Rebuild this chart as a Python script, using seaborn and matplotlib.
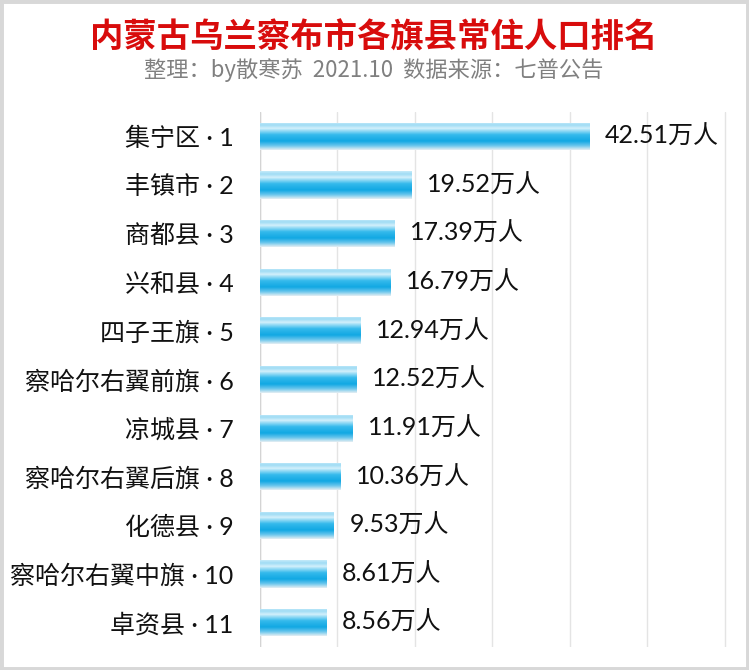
import numpy as np
import pandas as pd
import matplotlib
matplotlib.use("Agg")
import matplotlib.pyplot as plt
from matplotlib.colors import LinearSegmentedColormap
from matplotlib.patches import Rectangle
import seaborn as sns

names = ["集宁区", "丰镇市", "商都县", "兴和县", "四子王旗", "察哈尔右翼前旗",
         "凉城县", "察哈尔右翼后旗", "化德县", "察哈尔右翼中旗", "卓资县"]
values = [42.51, 19.52, 17.39, 16.79, 12.94, 12.52, 11.91, 10.36, 9.53, 8.61, 8.56]
ranks = list(range(1, 12))
labels = [f"{n} · {r}" for n, r in zip(names, ranks)]
title = "内蒙古乌兰察布市各旗县常住人口排名"
subtitle = "整理：by散寒苏  2021.10  数据来源：七普公告"

sns.set_theme(style="white")
plt.rcParams['font.family'] = ['Noto Sans CJK SC', 'DejaVu Sans']
label_family = ['Lato', 'Noto Sans CJK SC']

df = pd.DataFrame({"label": labels, "value": values})

fig = plt.figure(figsize=(7.49, 6.70), dpi=100)
ax = fig.add_axes([260/749, 1 - 647/670, (727-260)/749, (647-112)/670])

sns.barplot(data=df, y="label", x="value", orient="h", color="#22b0e6",
            width=0.56, ax=ax, zorder=3)

cmap = LinearSegmentedColormap.from_list("cyl", [
    (0.0, "#c4eaf9"), (0.10, "#9fdcf5"), (0.22, "#d2f0fb"),
    (0.45, "#35baec"), (0.68, "#12a8e3"), (0.84, "#62c3ec"),
    (1.0, "#e2eef3")])
grad = np.linspace(0, 1, 64).reshape(-1, 1)
for p in ax.patches:
    x0, y0 = p.get_x(), p.get_y()
    w, h = p.get_width(), p.get_height()
    im = ax.imshow(grad, cmap=cmap, aspect="auto", origin="upper",
                   extent=[x0, x0 + w, y0 + h, y0], zorder=3)
    im.set_clip_path(p)
    p.set_facecolor("none")
    p.set_edgecolor("none")

for i, v in enumerate(values):
    ax.text(v + 2.0, i, f"{v:.2f}万人", va="center", ha="left",
            fontsize=18, color="#111111", zorder=4, family=label_family)

ax.set_xlim(0, 60.3)
ax.set_ylim(10.5, -0.5)
ax.set_xticks(range(0, 61, 10))
ax.xaxis.grid(True, color="#e4e4e4", linewidth=1.0, zorder=0)
ax.yaxis.grid(False)
ax.axvline(0, color="#d4d4d4", linewidth=1.0, zorder=1)
ax.tick_params(axis="x", bottom=False, labelbottom=False)
ax.tick_params(axis="y", left=False, pad=13, labelsize=18, labelcolor="#111111")
for t in ax.get_yticklabels():
    t.set_family(label_family)
ax.set_xlabel("")
ax.set_ylabel("")
for s in ax.spines.values():
    s.set_visible(False)

fig.text(374/749, 1 - 38/670, title, ha="center", va="center",
         fontsize=24, fontweight="bold", color="#d80c0c")
fig.text(374/749, 1 - 70/670, subtitle, ha="center", va="center",
         fontsize=16, color="#808080")

fig.patches.append(Rectangle((0, 0), 1, 1, transform=fig.transFigure,
                             fill=False, edgecolor="#d8d8d8", linewidth=5))

fig.savefig("out.png", dpi=100)
